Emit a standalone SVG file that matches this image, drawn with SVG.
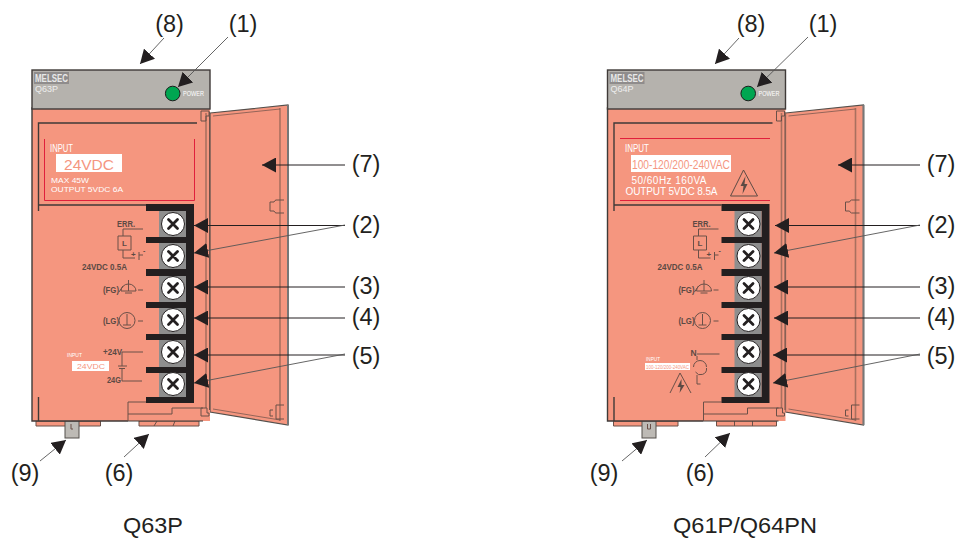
<svg xmlns="http://www.w3.org/2000/svg" xmlns:xlink="http://www.w3.org/1999/xlink" width="962" height="538" viewBox="0 0 962 538">
<style>
text{font-family:"Liberation Sans",Arial,sans-serif}
.lb{font-size:23.5px;fill:#231f20;text-anchor:middle}
.cap{font-size:22.5px;fill:#231f20;text-anchor:middle}
.sal{fill:#f5967f}
.ol{fill:none;stroke:#3f3a38;stroke-width:1.4}
.th{fill:none;stroke:#6b5048;stroke-width:1}
.dr{fill:none;stroke:#a9705f;stroke-width:1.6}
.wt{fill:#fff}
.st{fill:#5c4a44;font-weight:bold}
.red{fill:none;stroke:#e0203c;stroke-width:1}
.con{stroke:#231f20;stroke-width:1;fill:none;marker-end:url(#ah)}
.con2{stroke:#555;stroke-width:.9;fill:none;marker-end:url(#ah)}
</style>
<defs>
<marker id="ah" markerUnits="userSpaceOnUse" markerWidth="15" markerHeight="15" viewBox="0 0 15 15" refX="14" refY="7.500" orient="auto"><path d="M0 0L14 7.500L0 15Z" fill="#231f20"/></marker>
<g id="screw"><circle r="11.500" fill="#fff" stroke="#231f20" stroke-width="1"/><path d="M-4.500-4.500L4.500 4.500M4.500-4.500L-4.500 4.500" stroke="#231f20" stroke-width="2.800" stroke-linecap="round"/></g>
<g id="module">
<path class="sal" d="M210 113L288 105V425L210 412Z" stroke="#55504c" stroke-width="1.200"/>
<path d="M288 105V425" stroke="#777" stroke-width="2"/>
<path class="dr" d="M280 108V421"/>
<path class="th" d="M213 116L280 109M213 409L280 420" stroke-opacity=".7"/>
<path class="th" d="M284 200h-8q-1 0-2 2h-4v9h4q1 2 2 2h8M284 405h-8v14h8M273 410h-3v6h3"/>
<rect x="32" y="108" width="178" height="313" class="sal"/>
<path d="M210 108H32V421H128" stroke="#3f3a38" stroke-width="1.400" fill="none"/>
<path d="M128 421H203" stroke="#3f3a38" stroke-width="1.200" fill="none"/>
<rect x="32" y="70" width="178" height="39" fill="#b5b2ad" stroke="#3f3a38" stroke-width="1.400"/>
<path class="dr" d="M206 113V408"/>
<path d="M209.500 112V410" stroke="#6b5048" stroke-width="1" fill="none"/>
<path class="th" d="M201 111h8v5h-3v5h-5zM201 408h6v5h2v3h-8z"/>
<path d="M38.500 211V123H197M38.500 205H146M38.500 397V421" class="ol"/>
<path d="M128 421V402H146M128 414H172V408H203" class="th"/>
<path d="M146 204H194V403H146V397H186V373H146V367H186V340H146V334H186V308H146V302H186V276H146V269H186V243H146V237H186V211H146Z" fill="#231f20"/>
<path d="M159 211H186V237H159ZM159 243H186V269H159ZM159 276H186V302H159ZM159 308H186V334H159ZM159 340H186V367H159ZM159 373H186V397H159Z" fill="#8e8e8e"/>
<use xlink:href="#screw" x="173" y="224"/><use xlink:href="#screw" x="173" y="256"/><use xlink:href="#screw" x="173" y="288"/><use xlink:href="#screw" x="173" y="320"/><use xlink:href="#screw" x="173" y="352"/><use xlink:href="#screw" x="173" y="384"/>
<circle cx="172.700" cy="93.500" r="7.300" fill="#00a651" stroke="#1c1c1c"/>
<text x="183" y="96" font-size="7" class="wt" textLength="21" lengthAdjust="spacingAndGlyphs">POWER</text>
<rect x="34" y="72" width="35" height="12" fill="#8f8c8c"/>
<text x="35" y="82" font-size="10" font-weight="bold" fill="#e8e8e8" textLength="33" lengthAdjust="spacingAndGlyphs">MELSEC</text>
<path class="th" d="M143 229H123V236M118 236H131V250H118ZM123 250V258H135M139 252V260M139 255H143"/>
<text x="122" y="246" font-size="8" class="st">L</text>
<text x="131" y="257" font-size="8" class="st">+</text>
<text x="143" y="253" font-size="7" class="st">-</text>
<text x="117" y="227" font-size="9" class="st" textLength="18" lengthAdjust="spacingAndGlyphs">ERR.</text>
<text x="82" y="270" font-size="9" class="st" textLength="45" lengthAdjust="spacingAndGlyphs">24VDC 0.5A</text>
<text x="103" y="293" font-size="9" class="st" textLength="16" lengthAdjust="spacingAndGlyphs">(FG)</text>
<path class="th" d="M119 292L123 286M121 291A7.500 7 0 0 1 136 291ZM128.500 280V291M125 293H132M138 290H143"/>
<text x="103" y="324" font-size="9" class="st" textLength="16" lengthAdjust="spacingAndGlyphs">(LG)</text>
<circle cx="127" cy="320.500" r="8" class="th"/>
<path class="th" d="M127 314V325M123 325H131M138 321H143"/>
</g>
</defs>

<g id="module-q63p">
<path class="sal" d="M36 421h64.500v5H36zM139 421h60v5h-60z" stroke="#6b5048"/>
<rect x="65" y="421" width="14" height="17" fill="#bdbab5" stroke="#55504c"/>
<path class="th" d="M71 424v5h2M157 421l-3 5M175 421l-2 5"/>
<use xlink:href="#module"/>
<text x="35" y="92" font-size="9" fill="#eee">Q63P</text>
<path class="red" d="M44.500 139V200.500H194.500V139"/>
<rect x="56" y="154" width="66" height="18" class="wt"/>
<text x="64" y="170" font-size="15" fill="#f5967f" textLength="50" lengthAdjust="spacingAndGlyphs">24VDC</text>
<text x="50" y="152" font-size="10" class="wt" textLength="23" lengthAdjust="spacingAndGlyphs">INPUT</text>
<text x="51" y="183" font-size="8" class="wt" textLength="38" lengthAdjust="spacingAndGlyphs">MAX 45W</text>
<text x="51" y="192" font-size="8" class="wt" textLength="72" lengthAdjust="spacingAndGlyphs">OUTPUT 5VDC 6A</text>
<text x="103" y="355" font-size="8.500" class="st" textLength="19" lengthAdjust="spacingAndGlyphs">+24V</text>
<text x="107" y="383" font-size="8.500" class="st" textLength="14" lengthAdjust="spacingAndGlyphs">24G</text>
<path class="th" d="M143 352H122V366M118 366H127M119 368.500H125M122 368.500V381H142"/>
<text x="67" y="357" font-size="5.500" class="wt" textLength="15" lengthAdjust="spacingAndGlyphs">INPUT</text>
<rect x="72" y="361" width="37" height="10" class="wt"/>
<text x="77" y="369" font-size="8" fill="#f5967f" textLength="28" lengthAdjust="spacingAndGlyphs">24VDC</text>
</g>

<g id="module-q64p" transform="translate(575.500 0)">
<path class="sal" d="M38 421h64.500v5H38zM141 421h60v5h-60z" stroke="#6b5048"/>
<rect x="66.500" y="421" width="14" height="17" fill="#bdbab5" stroke="#55504c"/>
<path class="th" d="M72 424v5h3v-5M159 421v5M177 421v5"/>
<use xlink:href="#module"/>
<text x="35" y="92" font-size="9" fill="#eee">Q64P</text>
<path class="red" d="M44.500 138.500H194.500M44.500 200.500H194.500"/>
<text x="49.500" y="152" font-size="10" class="wt" textLength="24" lengthAdjust="spacingAndGlyphs">INPUT</text>
<rect x="55.500" y="155" width="100" height="17" class="wt"/>
<text x="56.500" y="169" font-size="12" fill="#f5967f" textLength="98" lengthAdjust="spacingAndGlyphs">100-120/200-240VAC</text>
<text x="56" y="184" font-size="10" class="wt" textLength="75" lengthAdjust="spacing">50/60Hz 160VA</text>
<text x="50" y="195" font-size="10" class="wt" textLength="92" lengthAdjust="spacing">OUTPUT 5VDC 8.5A</text>
<path d="M168 170L155 196H182Z" fill="none" stroke="#5c4a44"/>
<path d="M170 176L165 186H168L167 194L172 184H169Z" fill="#5c4a44"/>
<text x="115" y="356" font-size="8.500" class="st">N</text>
<path class="th" d="M121.500 354H144M121.500 356V360M118 367A6 6 0 0 1 131 367M120 372A6 6 0 0 0 131 368M121.500 375V384H125"/>
<text x="70.500" y="361" font-size="5.500" class="wt" textLength="14" lengthAdjust="spacingAndGlyphs">INPUT</text>
<rect x="69.500" y="363" width="45" height="7" class="wt"/>
<text x="70.500" y="369" font-size="5" fill="#f5967f" textLength="43" lengthAdjust="spacingAndGlyphs">100-120/200-240VAC</text>
<path class="th" d="M94.500 393L104.500 373L115.500 393"/>
<path d="M106 379L102 387H105L104 393L109 385H106Z" fill="#5c4a44"/>
</g>

<g id="connectors">
<path class="con2" d="M164 38L140 64"/><path class="con2" d="M228 37L178 87"/>
<path class="con" d="M345 165H262"/>
<path class="con" d="M345 225.500H194"/><path class="con2" d="M345 225L194 253"/>
<path class="con" d="M345 287H194"/><path class="con" d="M345 318H194"/>
<path class="con" d="M345 355H194"/><path class="con2" d="M345 354L194 383"/>
<path class="con2" d="M40 461L66 440"/><path class="con2" d="M124 457L149 434"/>
<path class="con2" d="M739 38L715 64"/><path class="con2" d="M808 37L757 87"/>
<path class="con" d="M920 165H838"/>
<path class="con" d="M920 225.500H775"/><path class="con2" d="M920 225L774 253"/>
<path class="con" d="M920 287H774"/><path class="con" d="M920 318H774"/>
<path class="con" d="M920 355H773"/><path class="con2" d="M920 354L773 383"/>
<path class="con2" d="M622 461L647 440"/><path class="con2" d="M705 457L730 433"/>
</g>

<g id="labels">
<text class="lb" x="169.500" y="32">(8)</text><text class="lb" x="243" y="32">(1)</text>
<text class="lb" x="366" y="172">(7)</text><text class="lb" x="366" y="233">(2)</text>
<text class="lb" x="366" y="294">(3)</text><text class="lb" x="366" y="325">(4)</text><text class="lb" x="366" y="364">(5)</text>
<text class="lb" x="25" y="481">(9)</text><text class="lb" x="119" y="481">(6)</text>
<text class="cap" x="153" y="533" textLength="60" lengthAdjust="spacingAndGlyphs">Q63P</text>
<text class="lb" x="751" y="32">(8)</text><text class="lb" x="823" y="32">(1)</text>
<text class="lb" x="941" y="172">(7)</text><text class="lb" x="941" y="233">(2)</text>
<text class="lb" x="941" y="294">(3)</text><text class="lb" x="941" y="325">(4)</text><text class="lb" x="941" y="364">(5)</text>
<text class="lb" x="604" y="481">(9)</text><text class="lb" x="700" y="481">(6)</text>
<text class="cap" x="745" y="533" textLength="144" lengthAdjust="spacingAndGlyphs">Q61P/Q64PN</text>
</g>
</svg>
